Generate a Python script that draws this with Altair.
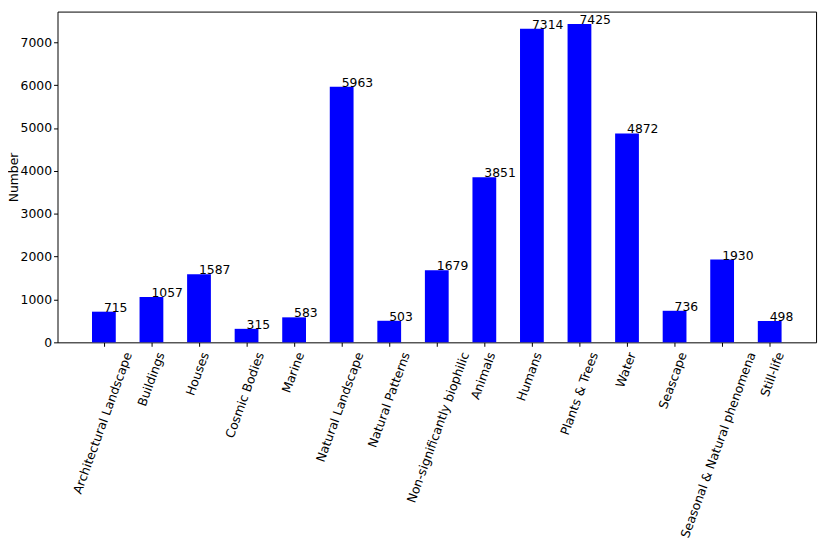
import altair as alt
import pandas as pd

categories = [
    "Architectural Landscape", "Buildings", "Houses", "Cosmic Bodies", "Marine",
    "Natural Landscape", "Natural Patterns", "Non-significantly biophilic",
    "Animals", "Humans", "Plants & Trees", "Water", "Seascape",
    "Seasonal & Natural phenomena", "Still-life",
]
counts = [715, 1057, 1587, 315, 583, 5963, 503, 1679, 3851, 7314, 7425, 4872, 736, 1930, 498]
y_ticks = [0, 1000, 2000, 3000, 4000, 5000, 6000, 7000]

df = pd.DataFrame({"category": categories, "count": counts, "idx": list(range(len(categories)))})

FONT = "DejaVu Sans"
FS = 12.5
x_scale = alt.Scale(domain=[-0.975, 14.975], nice=False, zero=False)
y_scale = alt.Scale(domain=[0, 7716], nice=False)

base = alt.Chart(df)

bars = base.transform_calculate(
    x0="datum.idx - 0.25", x1="datum.idx + 0.25"
).mark_bar(color="#0000ff").encode(
    x=alt.X("x0:Q", scale=x_scale,
            axis=alt.Axis(values=list(range(len(categories))), labels=False, ticks=True,
                          tickSize=4, tickColor="black", domain=False, grid=False, title=None)),
    x2="x1:Q",
    y=alt.Y("count:Q", scale=y_scale,
            axis=alt.Axis(values=y_ticks, format="d", labelFont=FONT, labelFontSize=FS,
                          labelColor="black", tickColor="black", tickSize=4, labelPadding=2,
                          domain=False, grid=False, title="Number", titleFont=FONT,
                          titleFontSize=FS, titleFontWeight="normal", titleColor="black",
                          titlePadding=0)),
    y2=alt.datum(0),
)

values = base.mark_text(align="left", baseline="alphabetic", font=FONT, fontSize=FS,
                        color="black").encode(
    x=alt.X("idx:Q", scale=x_scale),
    y=alt.Y("count:Q", scale=y_scale),
    text=alt.Text("count:Q", format="d"),
)

# category labels rotated 70 degrees, bounding box centred on the tick (matplotlib style)
cat_labels = base.transform_calculate(
    lx="datum.idx + length(datum.category) * 6.3 * 0.171 / 48"
).mark_text(angle=290, align="right", baseline="middle", dx=-9.9, dy=3.6,
            font=FONT, fontSize=FS, color="black").encode(
    x=alt.X("lx:Q", scale=x_scale),
    y=alt.datum(0, scale=y_scale),
    text="category:N",
)

chart = alt.layer(bars, values, cat_labels).properties(
    width=766, height=334,
    autosize=alt.AutoSizeParams(type="none"),
    padding={"left": 50, "top": 1, "right": 6, "bottom": 198},
    background="white",
).configure_view(stroke="black", strokeWidth=1)

chart.save("out.html", embed_options={"renderer": "svg", "actions": False})
